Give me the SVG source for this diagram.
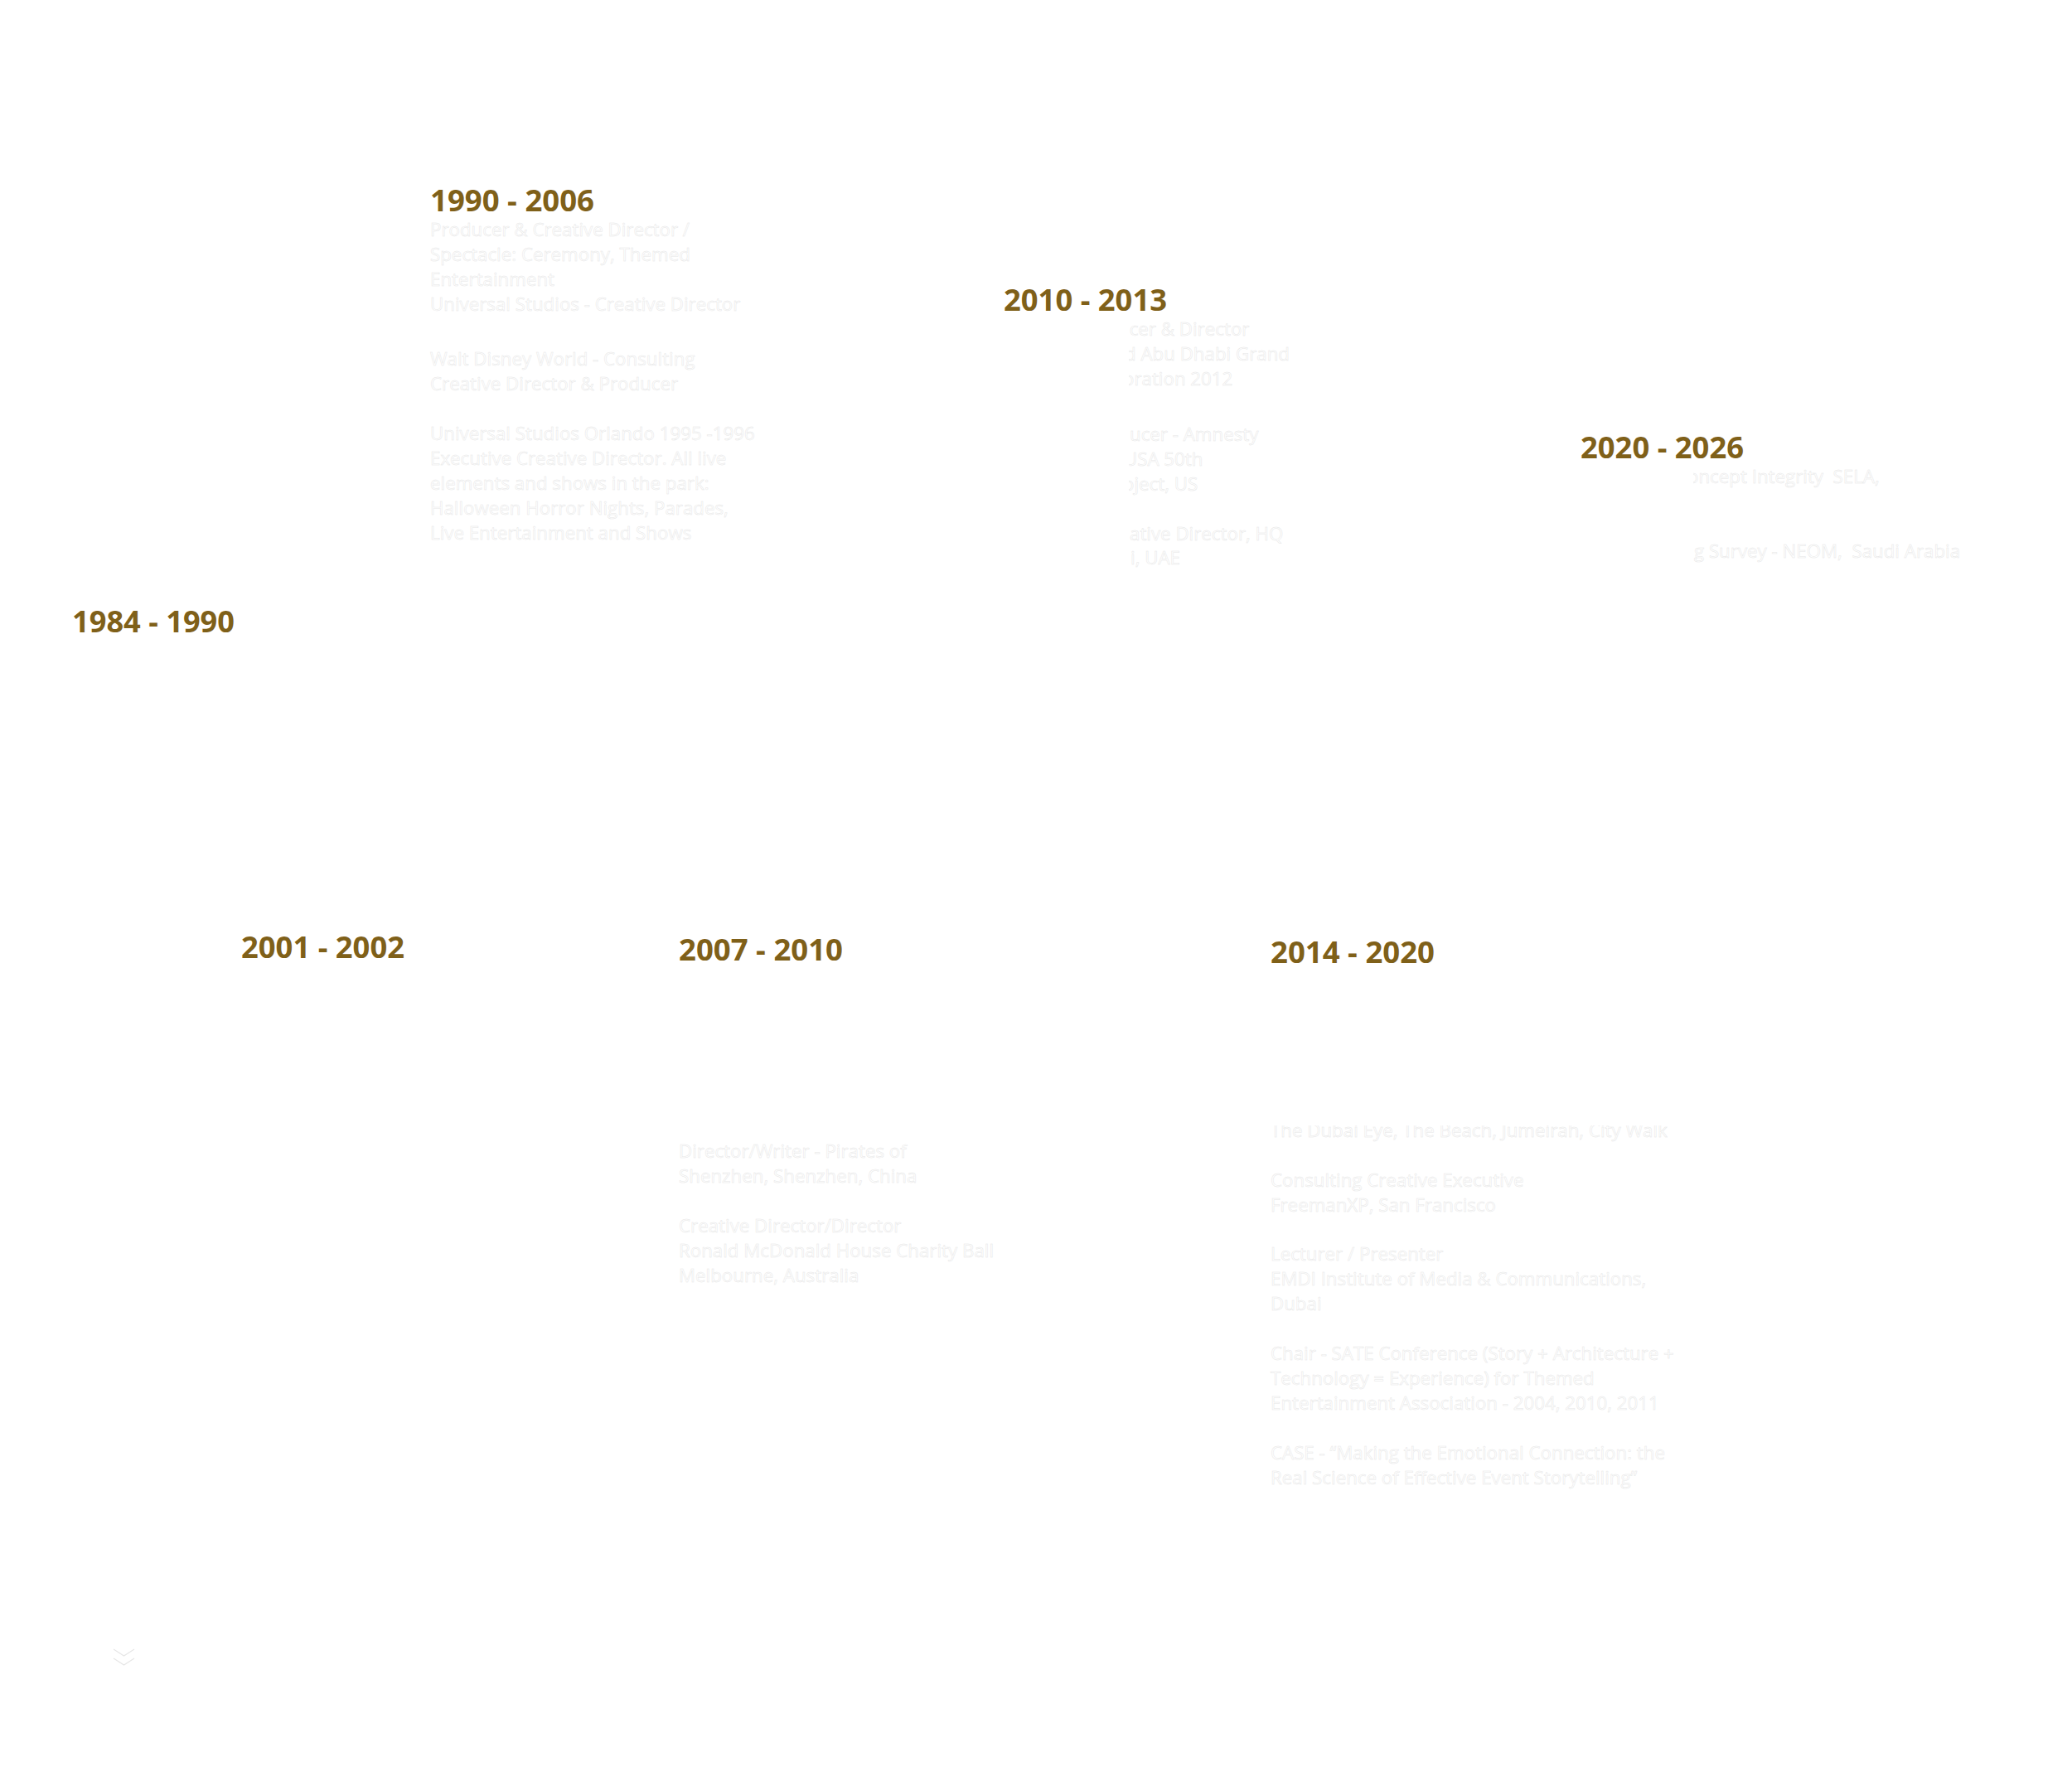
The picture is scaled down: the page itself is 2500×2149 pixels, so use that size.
<svg xmlns="http://www.w3.org/2000/svg" width="2500" height="2149" viewBox="0 0 2500 2149">
<defs>
<style>
.yr{font-family:"Open Sans","Liberation Sans",sans-serif;font-weight:700;font-size:36.5px;fill:#7f6019}
.tx{font-family:"Open Sans","Liberation Sans",sans-serif;font-size:22.3px;fill:#ffffff;stroke:#e6e6e6;stroke-width:0.5}
.ic{fill:none;stroke:#e6e6e6;stroke-width:1.2}
</style>
<clipPath id="c1013"><rect x="1362" y="380" width="400" height="320"/></clipPath>
<clipPath id="c2026"><rect x="2043" y="560" width="440" height="140"/></clipPath>
<clipPath id="c1420"><rect x="1500" y="1358" width="600" height="30"/></clipPath>
</defs>
<rect x="0" y="0" width="2500" height="2149" fill="#ffffff"/>

<g id="p1984">
<text class="yr" x="87" y="763" textLength="196" lengthAdjust="spacingAndGlyphs">1984 - 1990</text>
</g>

<g id="p1990">
<text class="yr" x="519" y="255" textLength="198" lengthAdjust="spacingAndGlyphs">1990 - 2006</text>
<text class="tx" x="519" y="285">Producer &amp; Creative Director /</text>
<text class="tx" x="519" y="315">Spectacle: Ceremony, Themed</text>
<text class="tx" x="519" y="345">Entertainment</text>
<text class="tx" x="519" y="375">Universal Studios - Creative Director</text>
<text class="tx" x="519" y="441">Walt Disney World - Consulting</text>
<text class="tx" x="519" y="471">Creative Director &amp; Producer</text>
<text class="tx" x="519" y="531">Universal Studios Orlando 1995 -1996</text>
<text class="tx" x="519" y="561">Executive Creative Director. All live</text>
<text class="tx" x="519" y="591">elements and shows in the park:</text>
<text class="tx" x="519" y="621">Halloween Horror Nights, Parades,</text>
<text class="tx" x="519" y="651">Live Entertainment and Shows</text>
</g>

<g id="p2001">
<text class="yr" x="291" y="1156" textLength="197" lengthAdjust="spacingAndGlyphs">2001 - 2002</text>
</g>

<g id="p2007">
<text class="yr" x="819" y="1159" textLength="198" lengthAdjust="spacingAndGlyphs">2007 - 2010</text>
<text class="tx" x="819" y="1397">Director/Writer - Pirates of</text>
<text class="tx" x="819" y="1427">Shenzhen, Shenzhen, China</text>
<text class="tx" x="819" y="1487">Creative Director/Director</text>
<text class="tx" x="819" y="1517">Ronald McDonald House Charity Ball</text>
<text class="tx" x="819" y="1547">Melbourne, Australia</text>
</g>

<g id="p2010">
<text class="yr" x="1211" y="375" textLength="197" lengthAdjust="spacingAndGlyphs">2010 - 2013</text>
<g clip-path="url(#c1013)">
<text class="tx" x="1349" y="405">ucer &amp; Director</text>
<text class="tx" x="1357" y="435">d Abu Dhabi Grand</text>
<text class="tx" x="1355" y="465">oration 2012</text>
<text class="tx" x="1363" y="532">ucer - Amnesty</text>
<text class="tx" x="1356" y="562">USA 50th</text>
<text class="tx" x="1355" y="592">oject, US</text>
<text class="tx" x="1363" y="652">ative Director, HQ</text>
<text class="tx" x="1364" y="681">i, UAE</text>
</g>
</g>

<g id="p2014">
<text class="yr" x="1533" y="1162" textLength="198" lengthAdjust="spacingAndGlyphs">2014 - 2020</text>
<g clip-path="url(#c1420)">
<text class="tx" x="1533" y="1372">The Dubai Eye, The Beach, Jumeirah, City Walk</text>
</g>
<text class="tx" x="1533" y="1432">Consulting Creative Executive</text>
<text class="tx" x="1533" y="1462">FreemanXP, San Francisco</text>
<text class="tx" x="1533" y="1521">Lecturer / Presenter</text>
<text class="tx" x="1533" y="1551">EMDI Institute of Media &amp; Communications,</text>
<text class="tx" x="1533" y="1581">Dubai</text>
<text class="tx" x="1533" y="1641">Chair - SATE Conference (Story + Architecture +</text>
<text class="tx" x="1533" y="1671">Technology = Experience) for Themed</text>
<text class="tx" x="1533" y="1701">Entertainment Association - 2004, 2010, 2011</text>
<text class="tx" x="1533" y="1761">CASE - “Making the Emotional Connection: the</text>
<text class="tx" x="1533" y="1791">Real Science of Effective Event Storytelling”</text>
</g>

<g id="p2020">
<text class="yr" x="1907" y="553" textLength="197" lengthAdjust="spacingAndGlyphs">2020 - 2026</text>
<g clip-path="url(#c2026)">
<text class="tx" x="2036" y="583">oncept Integrity &#160;SELA,</text>
<text class="tx" x="2044" y="673">g Survey - NEOM, &#160;Saudi Arabia</text>
</g>
</g>

<g id="scroll-icon">
<polyline class="ic" points="137,1990 149.5,1998 162,1990"/>
<polyline class="ic" points="137,2001 149.5,2009 162,2001"/>
</g>
<g id="connectors"></g>
</svg>
